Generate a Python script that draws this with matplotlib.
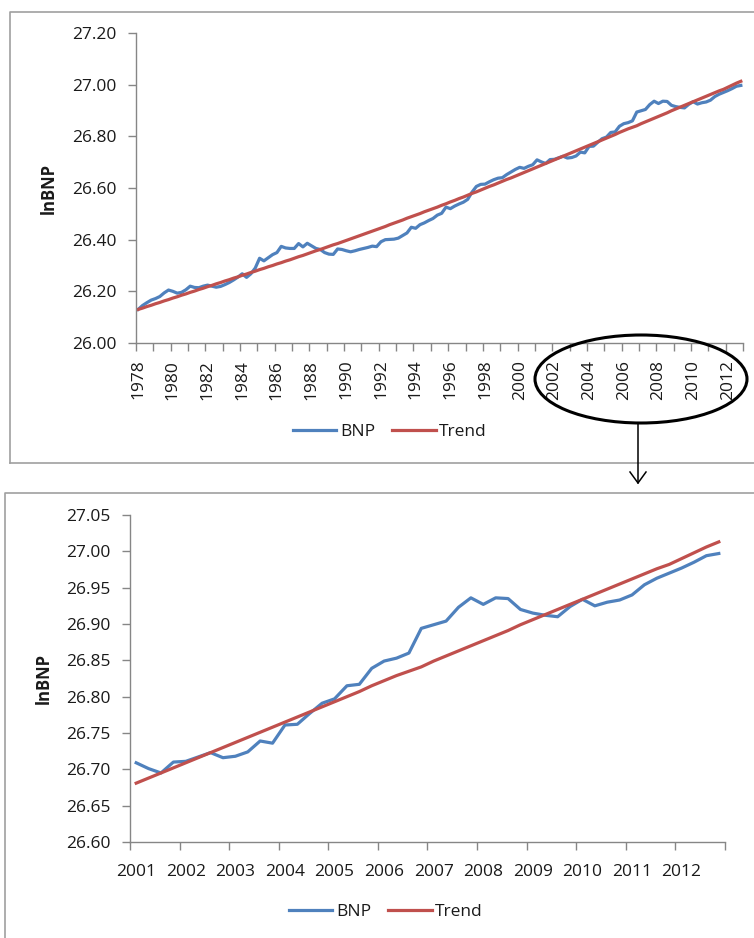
import numpy as np
import matplotlib.pyplot as plt
from matplotlib.patches import Ellipse
from matplotlib.lines import Line2D

plt.rcParams['font.family'] = ['Open Sans', 'DejaVu Sans']

first_year = 1978
last_year = 2012
zoom_from = 2001

# ln(BNP), quarterly, one row per year (Q1..Q4)
bnp = [
    [26.130, 26.145, 26.156, 26.166],  # 1978
    [26.172, 26.180, 26.194, 26.205],
    [26.200, 26.193, 26.196, 26.206],  # 1980
    [26.220, 26.215, 26.214, 26.220],
    [26.224, 26.220, 26.216, 26.219],
    [26.226, 26.234, 26.244, 26.255],
    [26.268, 26.254, 26.268, 26.290],
    [26.328, 26.318, 26.330, 26.342],  # 1985
    [26.350, 26.374, 26.368, 26.366],
    [26.366, 26.385, 26.372, 26.386],
    [26.376, 26.366, 26.362, 26.350],
    [26.344, 26.343, 26.364, 26.362],
    [26.357, 26.353, 26.357, 26.362],  # 1990
    [26.366, 26.370, 26.375, 26.373],
    [26.392, 26.400, 26.401, 26.402],
    [26.406, 26.416, 26.426, 26.448],
    [26.444, 26.458, 26.465, 26.474],
    [26.482, 26.495, 26.502, 26.526],  # 1995
    [26.520, 26.530, 26.538, 26.545],
    [26.556, 26.584, 26.606, 26.614],
    [26.615, 26.624, 26.632, 26.638],
    [26.640, 26.652, 26.662, 26.672],
    [26.680, 26.676, 26.684, 26.690],  # 2000
    [26.709, 26.701, 26.695, 26.710],
    [26.711, 26.717, 26.723, 26.716],
    [26.718, 26.724, 26.739, 26.736],
    [26.761, 26.762, 26.777, 26.791],
    [26.797, 26.815, 26.817, 26.839],  # 2005
    [26.849, 26.853, 26.860, 26.894],
    [26.899, 26.904, 26.923, 26.936],
    [26.927, 26.936, 26.935, 26.920],
    [26.915, 26.912, 26.910, 26.924],
    [26.934, 26.925, 26.930, 26.933],  # 2010
    [26.940, 26.954, 26.963, 26.970],
    [26.977, 26.985, 26.994, 26.997],
]

# trend component, same layout
trend = [
    [26.130, 26.135, 26.141, 26.146],  # 1978
    [26.152, 26.157, 26.163, 26.168],
    [26.174, 26.179, 26.185, 26.190],  # 1980
    [26.196, 26.201, 26.207, 26.212],
    [26.218, 26.223, 26.229, 26.234],
    [26.240, 26.245, 26.251, 26.256],
    [26.262, 26.267, 26.273, 26.278],
    [26.284, 26.289, 26.295, 26.300],  # 1985
    [26.306, 26.311, 26.317, 26.322],
    [26.328, 26.334, 26.339, 26.345],
    [26.351, 26.357, 26.362, 26.368],
    [26.374, 26.380, 26.385, 26.391],
    [26.397, 26.403, 26.409, 26.415],  # 1990
    [26.421, 26.427, 26.433, 26.439],
    [26.445, 26.451, 26.458, 26.464],
    [26.470, 26.476, 26.483, 26.489],
    [26.495, 26.501, 26.508, 26.514],
    [26.520, 26.526, 26.533, 26.539],  # 1995
    [26.546, 26.552, 26.559, 26.565],
    [26.572, 26.579, 26.585, 26.592],
    [26.599, 26.606, 26.612, 26.619],
    [26.626, 26.633, 26.639, 26.646],
    [26.653, 26.660, 26.667, 26.674],  # 2000
    [26.681, 26.688, 26.695, 26.702],
    [26.709, 26.716, 26.723, 26.730],
    [26.737, 26.744, 26.751, 26.758],
    [26.765, 26.772, 26.779, 26.786],
    [26.793, 26.800, 26.807, 26.815],  # 2005
    [26.822, 26.829, 26.835, 26.841],
    [26.849, 26.856, 26.863, 26.870],
    [26.877, 26.884, 26.891, 26.899],
    [26.906, 26.913, 26.920, 26.927],
    [26.934, 26.941, 26.948, 26.955],  # 2010
    [26.962, 26.969, 26.976, 26.982],
    [26.990, 26.998, 27.006, 27.013],
]

years = list(range(first_year, last_year + 1))

blue = '#4F81BD'
red = '#C0504D'
axis_grey = '#868686'
frame_grey = '#a0a0a0'
text_col = '#1a1a1a'
fs = 12.5

# each quarter sits in the middle of its slot within the year
t = np.array([y + (q + 0.5) / 4 for y in years for q in range(4)])
bnp_q = np.array(bnp).ravel()
trend_q = np.array(trend).ravel()

W, H = 754, 938
fig = plt.figure(figsize=(W / 100, H / 100), dpi=100)
fig.patch.set_facecolor('white')


def fx(px):
    return px / W


def fy(py):
    return 1 - py / H


def style(ax, start, end, label_years, rot):
    for side in ['top', 'right']:
        ax.spines[side].set_visible(False)
    for side in ['left', 'bottom']:
        ax.spines[side].set_color(axis_grey)
        ax.spines[side].set_linewidth(1.0)
    ax.set_xlim(start, end)
    ax.set_xticks(range(start, end + 1), minor=True)
    ax.set_xticks([y + 0.125 for y in label_years])
    ax.set_xticklabels([str(y) for y in label_years], rotation=rot)
    ax.tick_params(axis='x', which='major', length=0, labelsize=fs, colors=text_col)
    ax.tick_params(axis='x', which='minor', length=6, width=1.0, color=axis_grey, direction='out')
    ax.tick_params(axis='y', length=6, width=1.0, color=axis_grey, labelsize=fs,
                   labelcolor=text_col, pad=8)
    ax.yaxis.set_major_formatter(plt.FormatStrFormatter('%.2f'))
    ax.set_ylabel('lnBNP', fontsize=fs - 0.5, fontweight='bold', color=text_col, va='center')


# full period
ax1 = fig.add_axes([fx(136), fy(343), fx(607), 310 / H])
ax1.plot(t, bnp_q, color=blue, lw=2.3, label='BNP')
ax1.plot(t, trend_q, color=red, lw=2.3, label='Trend')
ax1.set_ylim(26.0, 27.2)
ax1.set_yticks(np.arange(26.0, 27.21, 0.2))
style(ax1, first_year, last_year + 1, years[::2], 90)
ax1.tick_params(axis='x', which='major', pad=12)
ax1.yaxis.set_label_coords((49 - 136) / 607, 0.5)
ax1.legend(loc='center', bbox_to_anchor=(fx(390), fy(432)), bbox_transform=fig.transFigure,
           ncol=2, frameon=False, fontsize=fs, handlelength=2.5, handletextpad=0.2,
           columnspacing=1.0, labelcolor=text_col)

# zoom on the last twelve years
sel = t >= zoom_from
ax2 = fig.add_axes([fx(130), fy(842), fx(595), 327 / H])
ax2.plot(t[sel], bnp_q[sel], color=blue, lw=2.3, label='BNP')
ax2.plot(t[sel], trend_q[sel], color=red, lw=2.3, label='Trend')
ax2.set_ylim(26.6, 27.05)
ax2.set_yticks(np.arange(26.6, 27.051, 0.05))
style(ax2, zoom_from, last_year + 1, list(range(zoom_from, last_year + 1)), 0)
ax2.tick_params(axis='x', which='major', pad=16)
ax2.yaxis.set_label_coords((44 - 130) / 595, 0.5)
ax2.legend(loc='center', bbox_to_anchor=(fx(386), fy(912)), bbox_transform=fig.transFigure,
           ncol=2, frameon=False, fontsize=fs, handlelength=2.5, handletextpad=0.2,
           columnspacing=1.0, labelcolor=text_col)

# chart frames
for xs, ys in [([10, 10, W], [463, 12, 12]), ([10, W], [463, 463]), ([5, 5, W], [H, 493, 493])]:
    fig.add_artist(Line2D([fx(x) for x in xs], [fy(y) for y in ys], color=frame_grey, lw=1.2))

# ring around the 2002-2012 labels and the pointer down to the zoomed chart
fig.add_artist(Ellipse((fx(641), fy(379)), fx(212), 88 / H, transform=fig.transFigure,
                       fill=False, ec='black', lw=2.2))
fig.add_artist(Line2D([fx(638), fx(638)], [fy(424), fy(483)], color='black', lw=1.1))
fig.add_artist(Line2D([fx(630), fx(638), fx(646)], [fy(472), fy(483), fy(472)], color='black', lw=1.1))

fig.savefig('out.png', dpi=100, facecolor='white')
